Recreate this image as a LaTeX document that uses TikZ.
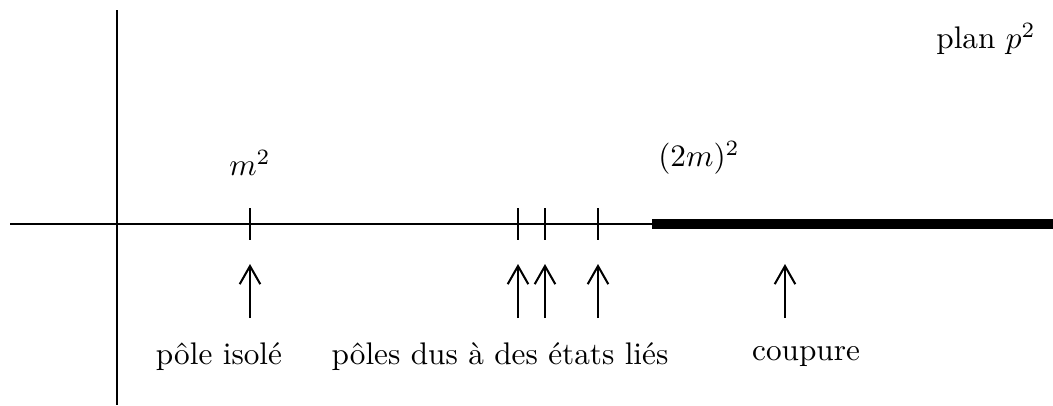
\documentclass[tikz,border=0pt]{standalone}
\usetikzlibrary{arrows.meta}
\begin{document}
\begin{tikzpicture}[x=0.32pt,y=-0.32pt,
  axis/.style={line width=0.65pt},
  cut/.style={line width=3.2pt},
  tick/.style={line width=0.65pt},
  uparrow/.style={line width=0.65pt,-{Straight Barb[length=5.8pt,width=6.6pt,line width=0.65pt]}},
  lab/.style={inner sep=0pt,font=\fontsize{10}{12}\selectfont}]
\useasboundingbox (0,0) rectangle (1053,405);
% axes
\coordinate (xl) at (10,224);
\coordinate (xc) at (652,224);
\coordinate (xr) at (1053,224);
\coordinate (yt) at (117,10);
\coordinate (yb) at (117,405);
\draw[axis] (xl) -- (xc);
\draw[cut] (xc) -- (xr);
\draw[axis] (yt) -- (yb);
% ticks
\foreach \n/\x in {a/250,b/518,c/545,d/598}{
  \coordinate (t\n1) at (\x,208);
  \coordinate (t\n2) at (\x,240);
  \draw[tick] (t\n1) -- (t\n2);
  \coordinate (s\n) at (\x,318);
  \coordinate (e\n) at (\x,264);
  \draw[uparrow] (s\n) -- (e\n);
}
\coordinate (se) at (785,318);
\coordinate (ee) at (785,264);
\draw[uparrow] (se) -- (ee);
% labels
\node[lab] (m2) at (250,163) {$m^2$};
\node[lab] (m22) at (699,158) {$(2m)^2$};
\node[lab] (plan) at (986,39) {plan $p^2$};
\node[lab] (iso) at (219,357) {pôle isolé};
\node[lab] (lies) at (500,357) {pôles dus à des états liés};
\node[lab] (coup) at (806,357) {coupure};
\end{tikzpicture}
\end{document}
